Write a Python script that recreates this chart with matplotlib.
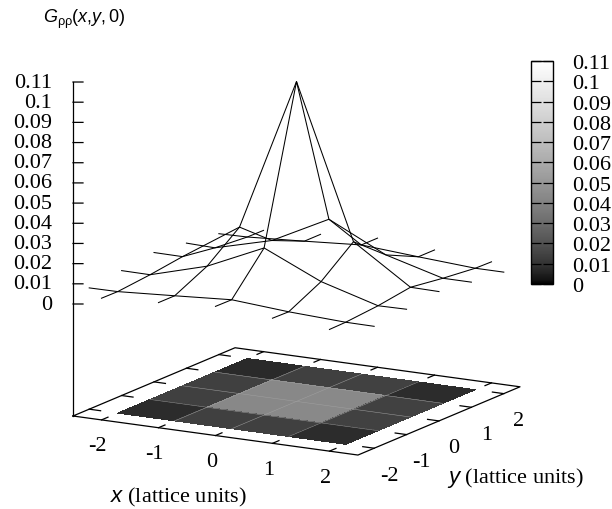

import numpy as np
import matplotlib
matplotlib.use("Agg")
import matplotlib.pyplot as plt
from matplotlib import cm
from matplotlib.colors import ListedColormap, Normalize
from mpl_toolkits.mplot3d import proj3d

# Surface values (rows follow y, columns follow x)
grid_x = [-2.5, -2, -1, 0, 1, 2, 2.5]
grid_y = [-2.5, -2, -1, 0, 1, 2, 2.5]
surface_z = [
    [np.nan, 0.0048, 0.0065, 0.0085, 0.0065, 0.0048, np.nan],
    [0.0046, 0.0047, 0.0065, 0.0084, 0.0063, 0.0050, 0.0049],
    [0.0064, 0.0063, 0.0144, 0.0273, 0.0145, 0.0064, 0.0066],
    [0.0086, 0.0085, 0.0270, 0.1030, 0.0275, 0.0088, 0.0086],
    [0.0065, 0.0061, 0.0136, 0.0280, 0.0142, 0.0065, 0.0065],
    [0.0044, 0.0047, 0.0065, 0.0085, 0.0065, 0.0047, 0.0047],
    [np.nan, 0.0046, 0.0065, 0.0085, 0.0065, 0.0045, np.nan],
]
tick_xy = [-2, -1, 0, 1, 2]
tick_z = [0, 0.01, 0.02, 0.03, 0.04, 0.05, 0.06, 0.07, 0.08, 0.09, 0.1, 0.11]
tick_z_labels = ["0", "0.01", "0.02", "0.03", "0.04", "0.05", "0.06", "0.07",
                 "0.08", "0.09", "0.1", "0.11"]

W, H = 612, 510
Z_BASE = -0.0555
Z_TOP = 0.11

plt.rcParams["font.family"] = "Liberation Serif"
plt.rcParams["mathtext.fontset"] = "custom"
plt.rcParams["mathtext.rm"] = "Liberation Serif"
plt.rcParams["mathtext.it"] = "Liberation Sans:italic"
plt.rcParams["mathtext.sf"] = "Liberation Sans"

FS = 16

fig = plt.figure(figsize=(W / 100, H / 100), dpi=100)
ax = fig.add_axes([0, 0, 1, 1], projection="3d", proj_type="ortho",
                  computed_zorder=False)
ax.set_axis_off()
ax.view_init(elev=13.9, azim=-60.3)
ax.set_xlim(-2.5, 2.5)
ax.set_ylim(-2.5, 2.5)
ax.set_zlim(Z_BASE, Z_TOP)
ax.set_box_aspect((328, 327, 344), zoom=1)

z_arr = np.array(surface_z)
gx = np.array(grid_x)
gy = np.array(grid_y)

# gnuplot gray palette has gamma 1.5
ramp = np.linspace(0, 1, 256) ** (1 / 1.5)
gray15 = ListedColormap(np.column_stack([ramp, ramp, ramp]))
norm = Normalize(vmin=0, vmax=Z_TOP)

# Flat colour map on the base: each cell takes the mean of its four corners
inner = z_arr[1:6, 1:6]
cells = (inner[:-1, :-1] + inner[1:, :-1] + inner[:-1, 1:] + inner[1:, 1:]) / 4
X, Y = np.meshgrid(gx[1:6], gy[1:6])
ax.plot_surface(X, Y, np.full(X.shape, Z_BASE), facecolors=gray15(norm(cells)),
                rstride=1, cstride=1, shade=False, linewidth=0, antialiased=False)
for v in tick_xy[1:-1]:
    ax.plot([v, v], [-2, 2], [Z_BASE, Z_BASE], color="#a0a0a0", lw=0.35)
    ax.plot([-2, 2], [v, v], [Z_BASE, Z_BASE], color="#a0a0a0", lw=0.35)

# Wire surface
for j in range(1, 6):
    ax.plot(gx, np.full(7, gy[j]), z_arr[j], color="black", lw=0.75)
for i in range(1, 6):
    ax.plot(np.full(7, gx[i]), gy, z_arr[:, i], color="black", lw=0.75)

# Box on the base plane and z axis
ax.plot([-2.5, 2.5, 2.5, -2.5, -2.5], [-2.5, -2.5, 2.5, 2.5, -2.5],
        [Z_BASE] * 5, color="black", lw=0.9)
ax.plot([-2.5, -2.5], [-2.5, -2.5], [Z_BASE, Z_TOP], color="black", lw=0.9)

for v in tick_xy:
    ax.plot([v, v], [-2.5, -2.3], [Z_BASE, Z_BASE], color="black", lw=0.9)
    ax.plot([v, v], [2.5, 2.3], [Z_BASE, Z_BASE], color="black", lw=0.9)
    ax.plot([-2.5, -2.3], [v, v], [Z_BASE, Z_BASE], color="black", lw=0.9)
    ax.plot([2.5, 2.3], [v, v], [Z_BASE, Z_BASE], color="black", lw=0.9)

# z ticks run flat on screen, so they step along x and y together
for v in tick_z:
    ax.plot([-2.5, -2.5 + 0.132], [-2.5, -2.5 + 0.076], [v, v], color="black", lw=0.9)


# Pixel position of a data point, y counted from the top of the picture
def to_px(x, y, z):
    px, py, _ = proj3d.proj_transform(x, y, z, ax.get_proj())
    sx, sy = ax.transData.transform((px, py))
    return sx, H - sy


# Scale and shift the 3D box so its left corner and right corner land right
fig.canvas.draw()
left = to_px(-2.5, -2.5, Z_BASE)
right = to_px(2.5, 2.5, Z_BASE)
ax.set_box_aspect((328, 327, 344), zoom=447 / (right[0] - left[0]))
fig.canvas.draw()
left = to_px(-2.5, -2.5, Z_BASE)
pos = ax.get_position(original=True)
ax.set_position([pos.x0 + (73 - left[0]) / W, pos.y0 + (left[1] - 417) / H,
                 pos.width, pos.height])
fig.canvas.draw()

# Tick labels go on as plain figure text, offset in pixels from the axis
for v in tick_xy:
    sx, sy = to_px(v, -2.5, Z_BASE)
    fig.text((sx - 4) / W, 1 - (sy + 26) / H, str(v), ha="center", va="center", fontsize=FS)
    sx, sy = to_px(2.5, v, Z_BASE)
    fig.text((sx + 15) / W, 1 - (sy + 27) / H, str(v), ha="center", va="center", fontsize=FS)
for v, lab in zip(tick_z, tick_z_labels):
    sx, sy = to_px(-2.5, -2.5, v)
    fig.text((sx - 21) / W, 1 - sy / H, lab, ha="right", va="center", fontsize=FS)

# Colour box
cax = fig.add_axes([531 / W, 1 - 285 / H, 22 / W, 223 / H])
cb = fig.colorbar(cm.ScalarMappable(norm=norm, cmap=gray15), cax=cax)
cb.set_ticks(tick_z, labels=tick_z_labels)
cb.minorticks_off()
cax.tick_params(axis="y", direction="in", left=True, right=True, length=7,
                width=0.9, pad=13.7, labelsize=FS)
cb.outline.set_linewidth(1.0)

fig.text(43 / W, 1 - 19 / H, r"$G_{\mathsf{ρρ}}\mathsf{(}x\mathsf{,}y\mathsf{,0)}$",
         fontsize=13, ha="left", va="center")
fig.text(110 / W, 1 - 497 / H, r"$x$ (lattice units)", fontsize=FS, ha="left", va="center")
fig.text(447 / W, 1 - 478 / H, r"$y$ (lattice units)", fontsize=FS, ha="left", va="center")

fig.savefig("out.png", dpi=100)
